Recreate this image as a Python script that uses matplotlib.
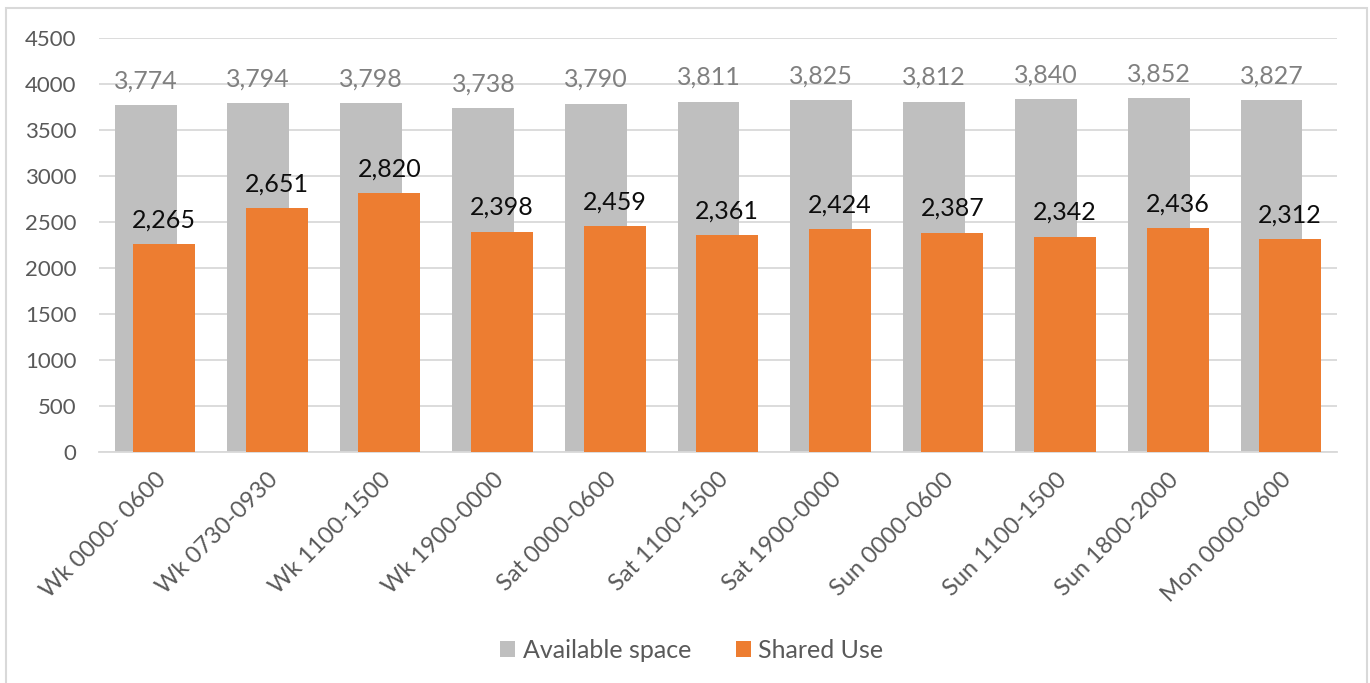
import matplotlib.pyplot as plt
import numpy as np
from matplotlib.patches import Rectangle

categories = [
    "Wk 0000- 0600",
    "Wk 0730-0930",
    "Wk 1100-1500",
    "Wk 1900-0000",
    "Sat 0000-0600",
    "Sat 1100-1500",
    "Sat 1900-0000",
    "Sun 0000-0600",
    "Sun 1100-1500",
    "Sun 1800-2000",
    "Mon 0000-0600",
]
available_space = [3774, 3794, 3798, 3738, 3790, 3811, 3825, 3812, 3840, 3852, 3827]
shared_use = [2265, 2651, 2820, 2398, 2459, 2361, 2424, 2387, 2342, 2436, 2312]

plt.rcParams["font.family"] = ["Lato", "DejaVu Sans"]

grey = "#BFBFBF"
orange = "#ED7D31"
text_grey = "#595959"

fig = plt.figure(figsize=(13.7, 6.83), dpi=100)
ax = fig.add_axes([0.072, 0.338, 0.904, 0.606])

x = np.arange(len(categories))
width = 0.55
offset = 0.083

grey_bars = ax.bar(x - offset, available_space, width, color=grey, label="Available space", zorder=2)
orange_bars = ax.bar(x + offset, shared_use, width, color=orange, label="Shared Use", zorder=3)

# value labels above each bar
for bar, v in zip(grey_bars, available_space):
    ax.annotate(f"{v:,}", (bar.get_x() + bar.get_width() / 2, v), xytext=(0, 12),
                textcoords="offset points", ha="center", va="baseline",
                fontsize=18, color="#808080", zorder=4)
for bar, v in zip(orange_bars, shared_use):
    ax.annotate(f"{v:,}", (bar.get_x() + bar.get_width() / 2, v), xytext=(0, 12),
                textcoords="offset points", ha="center", va="baseline",
                fontsize=18, color="#0D0D0D", zorder=4)

ax.set_ylim(0, 4500)
ax.set_xlim(-0.5, len(categories) - 0.5)
ax.set_yticks(np.arange(0, 4501, 500))
ax.yaxis.grid(True, color="#D9D9D9", linewidth=1.3, zorder=0)
ax.set_axisbelow(True)

ax.set_xticks(x)
ax.set_xticklabels(categories, rotation=45, ha="right", rotation_mode="anchor")
ax.tick_params(axis="both", length=0, labelsize=16, labelcolor=text_grey)
ax.tick_params(axis="x", labelsize=17, pad=12)
ax.tick_params(axis="y", pad=16)

for s in ["top", "right", "left"]:
    ax.spines[s].set_visible(False)
ax.spines["bottom"].set_color("#D9D9D9")
ax.spines["bottom"].set_linewidth(1.3)

fig.legend(handles=[grey_bars, orange_bars], loc="center",
           bbox_to_anchor=(0.505, 1 - 650 / 683), ncol=2, frameon=False,
           fontsize=18, labelcolor=text_grey, handlelength=0.6, handleheight=0.6,
           handletextpad=0.3, columnspacing=1.8)

# outer chart border
fig.patches.append(Rectangle((6 / 1370, -0.02), 1361 / 1370, 1 - 8 / 683 + 0.02,
                             transform=fig.transFigure, fill=False,
                             edgecolor="#D9D9D9", linewidth=1.5))

fig.savefig("out.png", dpi=100)
